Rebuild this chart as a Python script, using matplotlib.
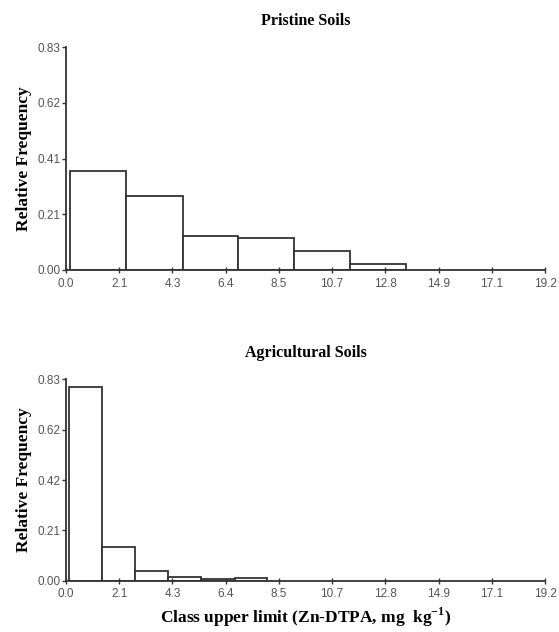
import numpy as np
import matplotlib
matplotlib.use("Agg")
import matplotlib.pyplot as plt

# class edges and relative frequencies
pristine_edges = [0.15, 2.4, 4.68, 6.9, 9.15, 11.4, 13.62]
pristine_freq = [0.368, 0.277, 0.128, 0.120, 0.071, 0.024]
agri_edges = [0.11, 1.46, 2.76, 4.07, 5.40, 6.76, 8.05]
agri_freq = [0.799, 0.139, 0.040, 0.014, 0.006, 0.009]

xticks = np.linspace(0, 19.2, 10)
xlabels = ["0.0", "2.1", "4.3", "6.4", "8.5", "10.7", "12.8", "14.9", "17.1", "19.2"]
yticks = np.linspace(0, 0.83, 5)
ylab_top = ["0.00", "0.21", "0.41", "0.62", "0.83"]
ylab_bot = ["0.00", "0.21", "0.42", "0.62", "0.83"]

SERIF = ["Liberation Serif", "DejaVu Serif"]
SANS = ["Liberation Sans", "DejaVu Sans"]
EDGE = "#333333"

fig = plt.figure(figsize=(5.59, 6.32), dpi=100)
ax1 = fig.add_axes([0.118, 0.5728, 0.857, 0.3528])
ax2 = fig.add_axes([0.118, 0.0812, 0.857, 0.3186])


def draw(ax, edges, freq, ylabs, title):
    e = np.array(edges)
    ax.bar(e[:-1], freq, width=np.diff(e), align="edge", facecolor="white",
           edgecolor=EDGE, linewidth=1.3)
    ax.set_xlim(0, 19.2); ax.set_ylim(0, 0.83)
    ax.set_xticks(xticks); ax.set_xticklabels(xlabels, family=SANS, fontsize=8.5, color="#555555")
    ax.set_yticks(yticks); ax.set_yticklabels(ylabs, family=SANS, fontsize=8.5, color="#555555")
    ax.tick_params(axis="x", direction="inout", length=5, width=1, color=EDGE, pad=3)
    ax.tick_params(axis="y", direction="out", length=3, width=1, color=EDGE, pad=1)
    for s in ["top", "right"]:
        ax.spines[s].set_visible(False)
    for s in ["left", "bottom"]:
        ax.spines[s].set_color(EDGE); ax.spines[s].set_linewidth(1.3)
    ax.set_ylabel("Relative Frequency", family=SERIF, fontweight="bold", fontsize=12.5, labelpad=4)
    ax.set_title(title, family=SERIF, fontweight="bold", fontsize=11.5, pad=16)


draw(ax1, pristine_edges, pristine_freq, ylab_top, "Pristine Soils")
draw(ax2, agri_edges, agri_freq, ylab_bot, "Agricultural Soils")
ax2.set_xlabel("Class upper limit (Zn-DTPA, mg  kg$^{\\mathregular{-1}}$)", family=SERIF,
               fontweight="bold", fontsize=12.5, labelpad=4)

fig.savefig("out.png", dpi=100)
